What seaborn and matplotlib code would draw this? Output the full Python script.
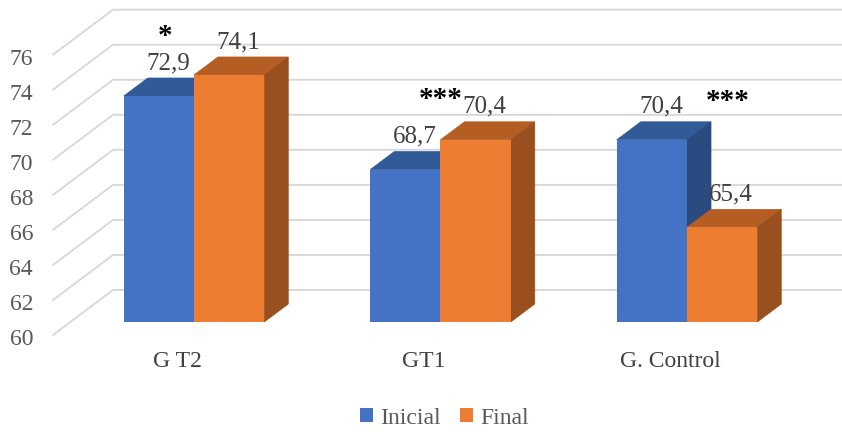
import numpy as np
import pandas as pd
import seaborn as sns
import matplotlib.pyplot as plt
from matplotlib.patches import Polygon
from matplotlib.transforms import ScaledTranslation

groups = ["G T2", "GT1", "G. Control"]
series = ["Inicial", "Final"]
inicial = [72.9, 68.7, 70.4]
final = [74.1, 70.4, 65.4]
stars = ["*", "***", "***"]
yticks = list(range(60, 78, 2))

BASE = 60
front_colors = ["#4472C4", "#ED7D31"]
top_colors = ["#335A98", "#B55E23"]
side_colors = ["#2B4A80", "#9A4F1E"]

# pixel scale of the chart (categories / values)
PX_X = 246.5
PX_Y = 17.52

df = pd.DataFrame({
    "Grupo": groups * 2,
    "Momento": [series[0]] * 3 + [series[1]] * 3,
    "Valor": inicial + final,
})

sns.set_style("white")
plt.rcParams["font.family"] = ["Liberation Serif", "DejaVu Serif"]

fig = plt.figure(figsize=(8.42, 4.32), dpi=100)
ax = fig.add_axes([45 / 842, 110 / 432, 797 / 842, 322 / 432])

sns.barplot(data=df, x="Grupo", y="Valor", hue="Momento", palette=front_colors,
            saturation=1, width=0.57, ax=ax, zorder=3, linewidth=0)

xlim = ((45 - 194) / PX_X, (842 - 194) / PX_X)
ylim = (BASE, BASE + 322 / PX_Y)

# back wall + side wall gridlines
wall_x0 = xlim[0] + 8 / PX_X
for t in yticks:
    xf, yf = wall_x0, t - 13 / PX_Y
    xb, yb = wall_x0 + 60 / PX_X, t + 32 / PX_Y
    ax.plot([xf, xb, xlim[1]], [yf, yb, yb], color="#d9d9d9", lw=1.4,
            clip_on=False, zorder=0.5)

# bars from BASE, 3D top / side faces
dx, dy = 24 / PX_X, 18 / PX_Y
for i, cont in enumerate(ax.containers):
    for rect in cont:
        val = rect.get_height()
        rect.set_y(BASE)
        rect.set_height(val - BASE)
        x0, w = rect.get_x(), rect.get_width()
        top_face = [(x0, val), (x0 + w, val), (x0 + w + dx, val + dy), (x0 + dx, val + dy)]
        side_face = [(x0 + w, BASE), (x0 + w + dx, BASE + dy), (x0 + w + dx, val + dy), (x0 + w, val)]
        z = 1.5 + i * 0.5
        ax.add_patch(Polygon(top_face, closed=True, fc=top_colors[i], ec=top_colors[i], lw=0.5, zorder=z))
        ax.add_patch(Polygon(side_face, closed=True, fc=side_colors[i], ec=side_colors[i], lw=0.5, zorder=z))
        ax.text(x0 + w / 2 + 9 / PX_X, val + 33 / PX_Y, f"{val:.1f}".replace(".", ","),
                ha="center", va="center", fontsize=18, color="#404040", zorder=5)

# significance marks
star_xy = [(-0.118, 76.3), (1.0, 72.7), (2.166, 72.6)]
for s, (sx, sy) in zip(stars, star_xy):
    ax.text(sx, sy, s, ha="center", va="center", fontsize=21, color="black",
            fontweight="bold", zorder=5)

ax.set_xlim(*xlim)
ax.set_ylim(*ylim)
ax.set_yticks(yticks)
ax.set_xlabel("")
ax.set_ylabel("")
for sp in ax.spines.values():
    sp.set_visible(False)
ax.tick_params(axis="y", length=0, pad=8.6, labelsize=17, labelcolor="#595959")
ax.tick_params(axis="x", length=0, pad=21, labelsize=17, labelcolor="#404040")
for lab in ax.get_yticklabels():
    lab.set_transform(lab.get_transform() + ScaledTranslation(0, -0.15, fig.dpi_scale_trans))
for lab in ax.get_xticklabels():
    lab.set_transform(lab.get_transform() + ScaledTranslation(-0.17, 0, fig.dpi_scale_trans))

ax.legend(loc="center", bbox_to_anchor=(0.528, 0.032), bbox_transform=fig.transFigure,
          ncol=2, frameon=False, fontsize=17, handlelength=0.55, handleheight=0.55,
          handletextpad=0.3, columnspacing=0.8, labelcolor="#595959")

fig.savefig("out.png", dpi=100)
